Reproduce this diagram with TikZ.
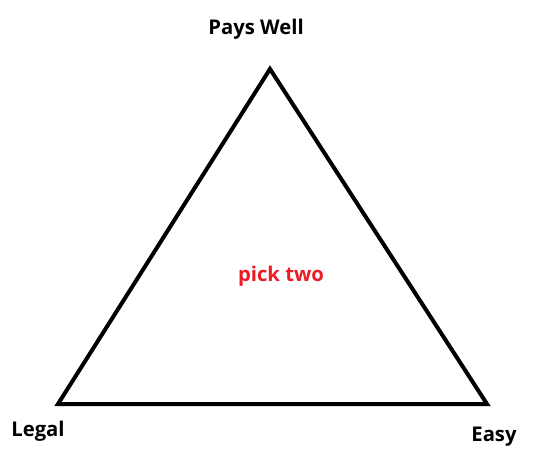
\documentclass[tikz,border=0pt]{standalone}
\usepackage{fontspec}
\setmainfont{Open Sans}
\definecolor{pickred}{RGB}{237,28,36}
\begin{document}
\begin{tikzpicture}[x=0.75pt,y=-0.75pt,
  lbl/.style={font=\fontsize{15.2}{17}\selectfont\bfseries, inner sep=0pt},
  edge/.style={line width=3pt, line join=miter}]
\useasboundingbox[fill=white] (0,0) rectangle (533,469);
\coordinate (top) at (270,69);
\coordinate (bl) at (58,404);
\coordinate (br) at (487,404);
\draw[edge] (top) -- (bl) -- (br) -- cycle;
\node[lbl] (pays) at (256,29) {Pays Well};
\node[lbl] (legal) at (38,431) {Legal};
\node[lbl] (easy) at (494,437) {Easy};
\node[lbl, text=pickred] (pick) at (281,276) {pick two};
\end{tikzpicture}
\end{document}
